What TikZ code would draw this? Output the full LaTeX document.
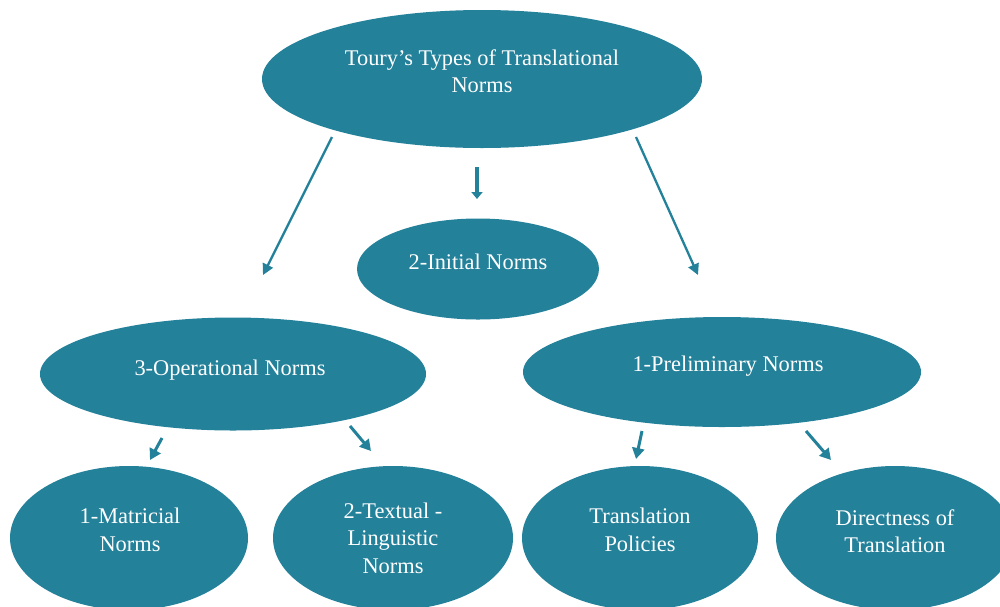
\documentclass[tikz,border=0pt]{standalone}
\usepackage{fontspec}
\setmainfont{Liberation Serif}
\usetikzlibrary{arrows.meta,shapes.geometric}
\definecolor{teal}{RGB}{35,129,154}
\tikzset{
  norm/.style={ellipse, fill=teal, inner sep=0pt},
  caption/.style={text=white, inner sep=0pt, align=center,
    font=\fontsize{22.4}{27.5}\selectfont},
  link/.style={draw=teal, line width=2.3pt, -{Triangle[length=11pt,width=11pt]}},
  shortlink/.style={draw=teal, line width=3pt, -{Triangle[length=11pt,width=12pt]}},
  droplink/.style={draw=teal, line width=4.5pt, -{Triangle[length=7pt,width=11pt]}},
}
\begin{document}
\begin{tikzpicture}[x=1pt,y=-1pt]
\useasboundingbox (0,0) rectangle (1000,606);
\clip (0,0) rectangle (1000,606);
\fill[white] (0,0) rectangle (1000,606);

% ellipses
\node[norm, minimum width=440pt, minimum height=138pt] (toury) at (482,79) {};
\node[norm, minimum width=242pt, minimum height=101pt] (initial) at (478,269) {};
\node[norm, minimum width=386pt, minimum height=113pt] (oper) at (233,374) {};
\node[norm, minimum width=398pt, minimum height=110pt] (prelim) at (722,372) {};
\node[norm, minimum width=238pt, minimum height=144pt] (matr) at (129,538) {};
\node[norm, minimum width=240pt, minimum height=144pt] (textual) at (393,538) {};
\node[norm, minimum width=236pt, minimum height=144pt] (policies) at (640,538) {};
\node[norm, minimum width=238pt, minimum height=144pt] (direct) at (895,538) {};

% texts, set a little above the centres
\node[caption] (touryt) at (482,71) {Toury's Types of Translational\\Norms};
\node[caption] (initialt) at (478,262) {2-Initial Norms};
\node[caption] (opert) at (230,370) {3-Operational Norms};
\node[caption] (prelimt) at (728,366) {1-Preliminary Norms};
\node[caption] (matrt) at (130,530) {1-Matricial\\Norms};
\node[caption] (textualt) at (393,538) {2-Textual -\\Linguistic\\Norms};
\node[caption] (policiest) at (640,530) {Translation\\Policies};
\node[caption] (directt) at (895,531) {Directness of\\Translation};

% arrow end points
\coordinate (tl1) at (332,137);  \coordinate (tl2) at (263,275);
\coordinate (tc1) at (477,167);  \coordinate (tc2) at (477,199);
\coordinate (tr1) at (636,137);  \coordinate (tr2) at (698,275);
\coordinate (ol1) at (162,438);  \coordinate (ol2) at (150,460);
\coordinate (or1) at (350,426);  \coordinate (or2) at (371,451);
\coordinate (pl1) at (642,431);  \coordinate (pl2) at (636,459);
\coordinate (pr1) at (806,431);  \coordinate (pr2) at (831,460);

% arrows
\draw[link] (tl1) -- (tl2);
\draw[droplink] (tc1) -- (tc2);
\draw[link] (tr1) -- (tr2);
\draw[shortlink] (ol1) -- (ol2);
\draw[shortlink] (or1) -- (or2);
\draw[shortlink] (pl1) -- (pl2);
\draw[shortlink] (pr1) -- (pr2);
\end{tikzpicture}
\end{document}
